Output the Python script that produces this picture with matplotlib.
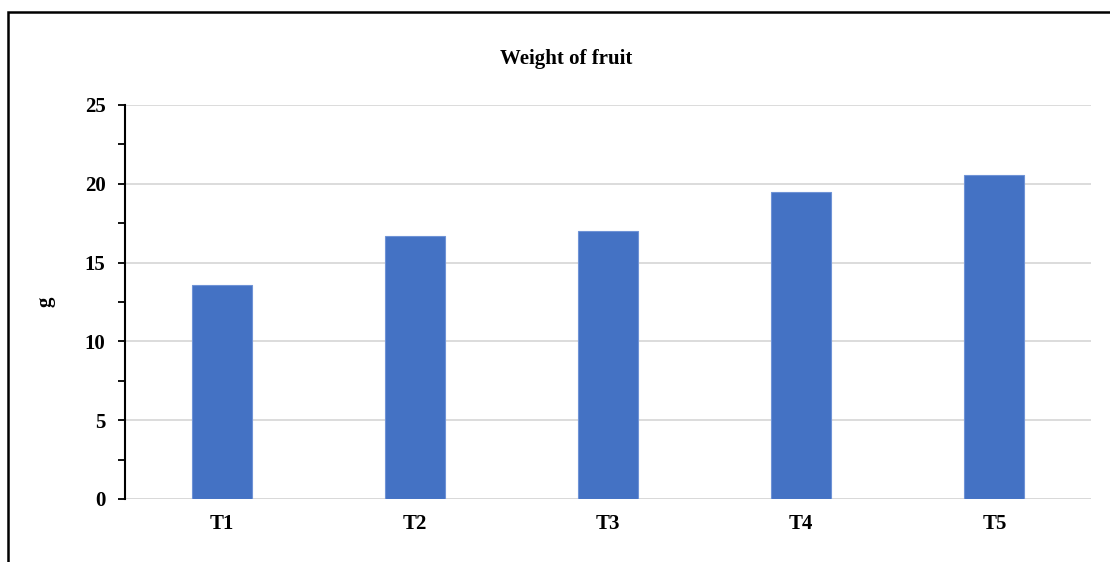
import matplotlib
matplotlib.use("Agg")
import matplotlib.pyplot as plt
from matplotlib.ticker import MultipleLocator
from matplotlib.patches import Rectangle

categories = ["T1", "T2", "T3", "T4", "T5"]
values = [13.6, 16.7, 17.0, 19.5, 20.55]
yticks = [0, 5, 10, 15, 20, 25]

plt.rcParams['font.family'] = ['Liberation Serif', 'DejaVu Serif']

fig = plt.figure(figsize=(11.10, 5.62), dpi=100)
ax = fig.add_axes([125/1110, 1-499/562, (1091-125)/1110, (499-105)/562])

x = range(len(categories))
ax.bar(x, values, width=0.31, color="#4472C4", edgecolor="#6f93d6", linewidth=0.8, zorder=3)
ax.set_xlim(-0.5, len(categories) - 0.5)
ax.set_ylim(0, 25)
ax.set_yticks(yticks)
ax.yaxis.set_minor_locator(MultipleLocator(2.5))
ax.set_xticks(list(x))
ax.set_xticklabels(categories, fontsize=15, fontweight='bold')
ax.set_yticklabels([str(t) for t in yticks], fontsize=15, fontweight='bold')
ax.grid(axis='y', color='#d9d9d9', linewidth=1.3, zorder=0)
for s in ['top', 'right', 'bottom']:
    ax.spines[s].set_visible(False)
ax.spines['left'].set_color('black')
ax.spines['left'].set_linewidth(1.5)
ax.axhline(0, color='#d9d9d9', linewidth=1.3, zorder=1)
ax.tick_params(axis='y', which='major', length=5, width=1.3, direction='out', pad=9, color='black')
ax.tick_params(axis='y', which='minor', length=5, width=1.3, direction='out', color='black')
ax.tick_params(axis='x', length=0, pad=11)
fig.text(45/1110, 1-302/562, "g", rotation=90, ha='center', va='center', fontsize=15, fontweight='bold')
fig.text(566/1110, 1-59/562, "Weight of fruit", ha='center', va='center', fontsize=15, fontweight='bold')

fig.patches.append(Rectangle((8/1110, -0.1), 1.2, 1 - 12/562 + 0.1, transform=fig.transFigure,
                             fill=False, edgecolor='black', linewidth=1.8))

fig.savefig("out.png", dpi=100)
